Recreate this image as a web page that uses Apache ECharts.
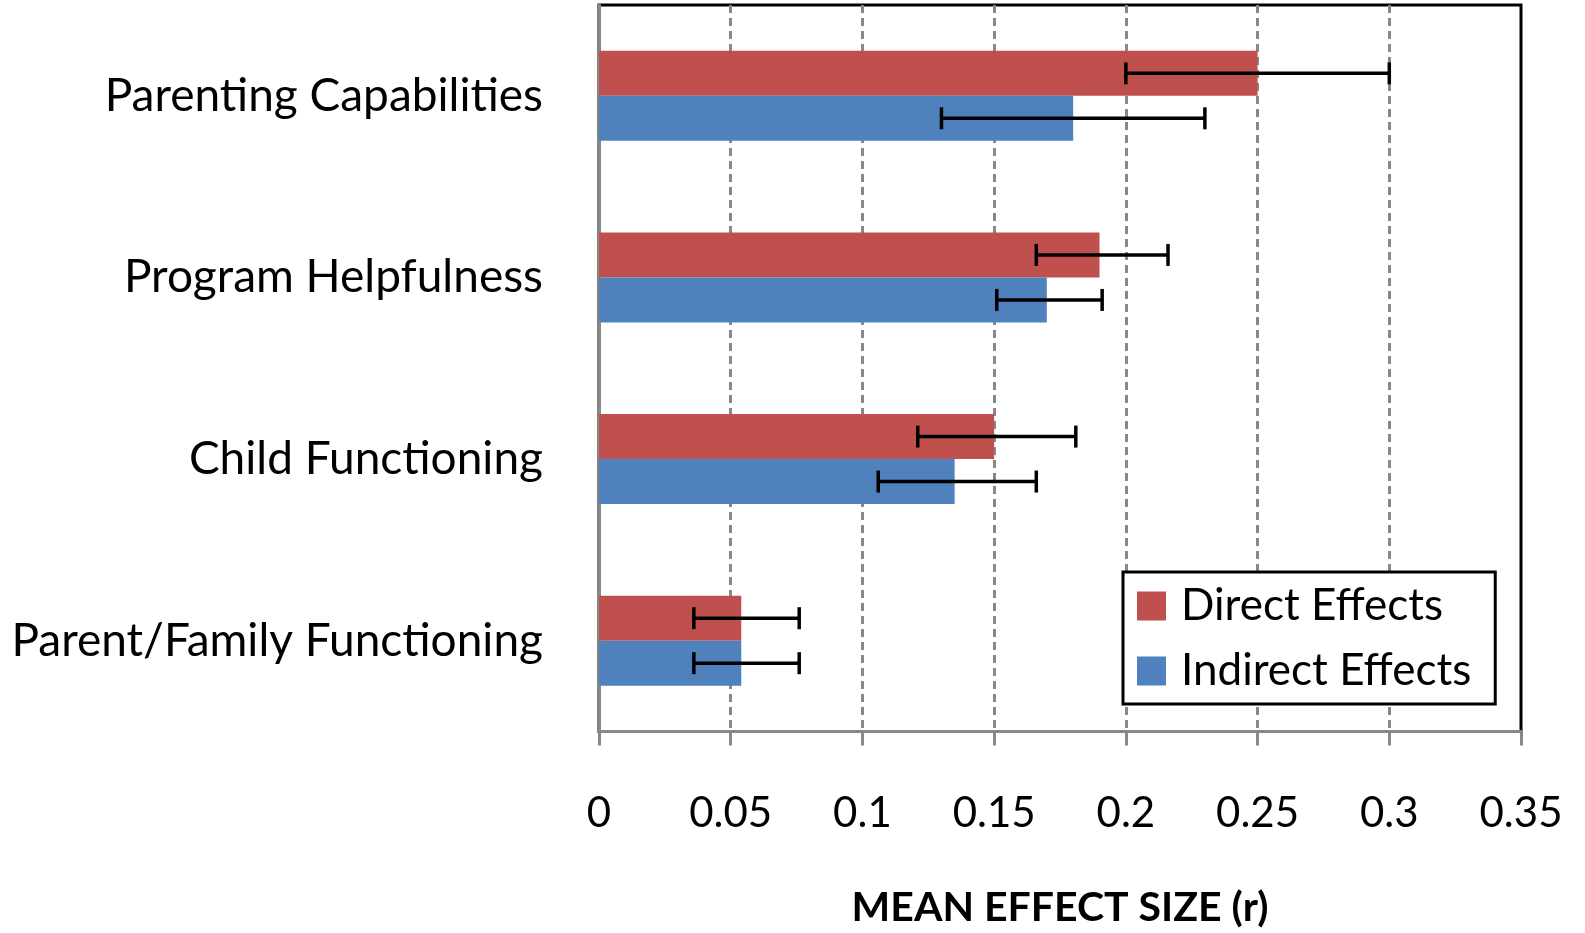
<!DOCTYPE html>
<html>
<head>
<meta charset="utf-8">
<script src="https://cdn.jsdelivr.net/npm/echarts@6/dist/echarts.min.js"></script>
<style>
html,body{margin:0;padding:0;background:#fff;}
#chart{width:1585px;height:933px;}
</style>
</head>
<body>
<div id="chart"></div>
<script>
const categories = ['Parenting Capabilities', 'Program Helpfulness', 'Child Functioning', 'Parent/Family Functioning'];
const seriesNames = ['Direct Effects', 'Indirect Effects'];
const directValues = [0.25, 0.19, 0.15, 0.054];
const indirectValues = [0.18, 0.17, 0.135, 0.054];
const directLow = [0.20, 0.166, 0.121, 0.036];
const directHigh = [0.30, 0.216, 0.181, 0.076];
const indirectLow = [0.13, 0.151, 0.106, 0.036];
const indirectHigh = [0.23, 0.191, 0.166, 0.076];
const xTicks = [0, 0.05, 0.1, 0.15, 0.2, 0.25, 0.3, 0.35];

const FONT = 'Lato';
const BAR_W = 45;
const colors = ['#C0504D', '#4F81BD'];

function errData(low, high) {
  return categories.map((c, i) => [low[i], high[i], i]);
}
function errRender(offset) {
  return function (params, api) {
    const lo = api.coord([api.value(0), api.value(2)]);
    const hi = api.coord([api.value(1), api.value(2)]);
    const y = lo[1] + offset;
    const cap = 11;
    const style = { stroke: '#000', lineWidth: 3.5, fill: null };
    return {
      type: 'group',
      children: [
        { type: 'line', shape: { x1: lo[0], y1: y, x2: hi[0], y2: y }, style: style },
        { type: 'line', shape: { x1: lo[0], y1: y - cap, x2: lo[0], y2: y + cap }, style: style },
        { type: 'line', shape: { x1: hi[0], y1: y - cap, x2: hi[0], y2: y + cap }, style: style }
      ]
    };
  };
}

const chart = echarts.init(document.getElementById('chart'));
chart.setOption({
  animation: false,
  backgroundColor: '#fff',
  textStyle: { fontFamily: FONT },
  grid: {
    left: 599, right: 64, top: 5, bottom: 199,
    show: true, borderColor: '#000', borderWidth: 3, backgroundColor: 'transparent'
  },
  legend: {
    orient: 'vertical',
    left: 1123, top: 572,
    data: seriesNames,
    itemWidth: 29, itemHeight: 29, itemGap: 21,
    icon: 'rect',
    backgroundColor: '#fff',
    borderColor: '#000', borderWidth: 3,
    padding: [12, 24, 11, 14],
    textStyle: { fontFamily: FONT, fontSize: 44, color: '#000', lineHeight: 44, padding: [0, 0, 0, 10] }
  },
  xAxis: {
    type: 'value',
    min: 0, max: 0.35, interval: 0.05,
    name: 'MEAN EFFECT SIZE (r)',
    nameLocation: 'middle',
    nameGap: 176,
    nameTextStyle: { fontFamily: FONT, fontSize: 41, fontWeight: 'bold', color: '#000', verticalAlign: 'middle' },
    axisLine: { show: true, lineStyle: { color: '#888', width: 3 } },
    axisTick: { show: true, length: 14, lineStyle: { color: '#888', width: 3 } },
    axisLabel: {
      margin: 82, fontSize: 42, color: '#000', fontFamily: FONT, verticalAlign: 'middle',
      formatter: v => { const t = xTicks.find(k => Math.abs(k - v) < 1e-9); return String(t !== undefined ? t : +v.toFixed(2)); }
    },
    splitLine: { show: true, showMinLine: false, showMaxLine: false, lineStyle: { color: '#888', width: 3, type: [8, 5] } }
  },
  yAxis: {
    type: 'category',
    data: categories,
    inverse: true,
    axisLine: { show: true, lineStyle: { color: '#888', width: 3 } },
    axisTick: { show: false },
    axisLabel: { margin: 56, fontSize: 46, color: '#000', fontFamily: FONT },
    splitLine: { show: false }
  },
  series: [
    { name: seriesNames[0], type: 'bar', data: directValues, barWidth: BAR_W, barGap: '0%', itemStyle: { color: colors[0] }, z: 2 },
    { name: seriesNames[1], type: 'bar', data: indirectValues, barWidth: BAR_W, barGap: '0%', itemStyle: { color: colors[1] }, z: 2 },
    { type: 'custom', renderItem: errRender(-BAR_W / 2), data: errData(directLow, directHigh), encode: { x: [0, 1], y: 2 }, z: 5 },
    { type: 'custom', renderItem: errRender(BAR_W / 2), data: errData(indirectLow, indirectHigh), encode: { x: [0, 1], y: 2 }, z: 5 }
  ]
});
</script>
</body>
</html>
